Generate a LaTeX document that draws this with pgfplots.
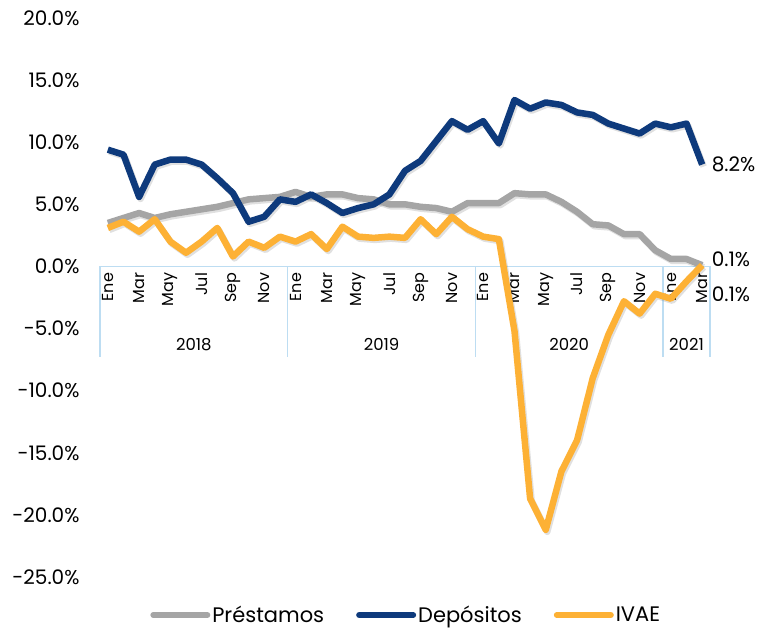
\documentclass[border=0pt]{standalone}
\usepackage{pgfplots}
\pgfplotsset{compat=1.18}
\usepackage{pgfplotstable}
\usepackage{fontspec}
\setmainfont{Poppins}
\definecolor{cP}{HTML}{A5A5A5}
\definecolor{cD}{HTML}{0E3A7C}
\definecolor{cI}{HTML}{FDB135}
\definecolor{sep}{HTML}{BDDDF2}
\tikzset{
  catlab/.style={rotate=90, anchor=east, inner sep=0pt, font=\fontsize{16bp}{18bp}\selectfont},
  yrlab/.style={font=\fontsize{16.5bp}{18bp}\selectfont},
  dlab/.style={anchor=west, font=\fontsize{20bp}{22bp}\selectfont, inner sep=0pt},
}
\pgfplotstableread{
i P D I
0 3.5 9.4 3.1
1 3.9 9.0 3.6
2 4.3 5.6 2.8
3 3.9 8.2 3.8
4 4.2 8.6 2.0
5 4.4 8.6 1.1
6 4.6 8.2 2.0
7 4.8 7.1 3.1
8 5.1 5.9 0.8
9 5.4 3.6 2.0
10 5.5 4.0 1.5
11 5.6 5.4 2.4
12 6.0 5.2 2.0
13 5.6 5.8 2.6
14 5.8 5.1 1.4
15 5.8 4.3 3.2
16 5.5 4.7 2.4
17 5.4 5.0 2.3
18 5.0 5.8 2.4
19 5.0 7.7 2.3
20 4.8 8.5 3.8
21 4.7 10.1 2.6
22 4.4 11.7 4.0
23 5.1 11.0 3.0
24 5.1 11.7 2.4
25 5.1 9.9 2.2
26 5.9 13.4 -5.2
27 5.8 12.7 -18.7
28 5.8 13.2 -21.2
29 5.2 13.0 -16.5
30 4.4 12.4 -14.0
31 3.4 12.2 -9.0
32 3.3 11.5 -5.5
33 2.6 11.1 -2.8
34 2.6 10.7 -3.8
35 1.3 11.5 -2.2
36 0.6 11.2 -2.6
37 0.6 11.5 -1.2
38 0.1 8.2 0.1
}\datatab
\begin{document}
\begin{tikzpicture}
\path[use as bounding box] (0,0) rectangle (770bp,-637bp);
\begin{axis}[
  at={(100bp,-577bp)}, anchor=south west,
  scale only axis, width=610bp, height=559bp,
  xmin=-0.5, xmax=38.5, ymin=-25, ymax=20,
  axis line style={draw=none},
  xtick=\empty,
  ytick={-25,-20,...,20},
  ytick style={draw=none},
  /pgf/number format/assume math mode=true,
  yticklabel={\pgfmathprintnumber[fixed,fixed zerofill,precision=1]{\tick}\%},
  yticklabel style={font=\fontsize{20bp}{22bp}\selectfont, anchor=east, xshift=-17bp},
  clip=false,
  legend columns=3,
  legend style={draw=none, fill=none, at={(0.502,-0.068)}, anchor=center,
    font=\fontsize{21bp}{24bp}\selectfont,
    /tikz/every even column/.append style={column sep=30bp}},
  legend image code/.code={\draw[#1, line cap=round, line width=6bp] (0bp,0bp) -- (54bp,0bp);},
]
% axis line and separators
\draw[sep, line width=1.2bp] (axis cs:-0.5,0) -- (axis cs:38.5,0);
\pgfplotsinvokeforeach{-0.5,11.5,23.5,35.5,38.5}{
  \draw[sep, line width=1.2bp] (axis cs:#1,0) -- (axis cs:#1,-7.3);
}
% category labels
\node[catlab] at (axis cs:0,-0.5) {Ene};
\node[catlab] at (axis cs:2,-0.5) {Mar};
\node[catlab] at (axis cs:4,-0.5) {May};
\node[catlab] at (axis cs:6,-0.5) {Jul};
\node[catlab] at (axis cs:8,-0.5) {Sep};
\node[catlab] at (axis cs:10,-0.5) {Nov};
\node[catlab] at (axis cs:12,-0.5) {Ene};
\node[catlab] at (axis cs:14,-0.5) {Mar};
\node[catlab] at (axis cs:16,-0.5) {May};
\node[catlab] at (axis cs:18,-0.5) {Jul};
\node[catlab] at (axis cs:20,-0.5) {Sep};
\node[catlab] at (axis cs:22,-0.5) {Nov};
\node[catlab] at (axis cs:24,-0.5) {Ene};
\node[catlab] at (axis cs:26,-0.5) {Mar};
\node[catlab] at (axis cs:28,-0.5) {May};
\node[catlab] at (axis cs:30,-0.5) {Jul};
\node[catlab] at (axis cs:32,-0.5) {Sep};
\node[catlab] at (axis cs:34,-0.5) {Nov};
\node[catlab] at (axis cs:36,-0.5) {Ene};
\node[catlab] at (axis cs:38,-0.5) {Mar};
\node[yrlab] at (axis cs:5.5,-6.3) {2018};
\node[yrlab] at (axis cs:17.5,-6.3) {2019};
\node[yrlab] at (axis cs:29.5,-6.3) {2020};
\node[yrlab] at (axis cs:37,-6.3) {2021};
% shadows
\addplot[forget plot, black, opacity=0.12, line width=6.5bp, line join=round, transform canvas={xshift=1.5bp,yshift=-2bp}] table[x=i,y=P]{\datatab};
\addplot[forget plot, black, opacity=0.12, line width=6.5bp, line join=round, transform canvas={xshift=1.5bp,yshift=-2bp}] table[x=i,y=D]{\datatab};
\addplot[forget plot, black, opacity=0.12, line width=6.5bp, line join=round, transform canvas={xshift=1.5bp,yshift=-2bp}] table[x=i,y=I]{\datatab};
% series
\addplot[cP, line width=6.5bp, line join=round] table[x=i,y=P]{\datatab};
\addlegendentry{Préstamos}
\addplot[cD, line width=6.5bp, line join=round] table[x=i,y=D]{\datatab};
\addlegendentry{Depósitos}
\addplot[cI, line width=6.5bp, line join=round] table[x=i,y=I]{\datatab};
\addlegendentry{IVAE}
% data labels
\node[dlab] at (axis cs:38.6,8.2) {8.2\%};
\node[dlab] at (axis cs:38.6,0.6) {0.1\%};
\node[dlab] at (axis cs:38.6,-2.2) {0.1\%};
\end{axis}
\end{tikzpicture}
\end{document}
